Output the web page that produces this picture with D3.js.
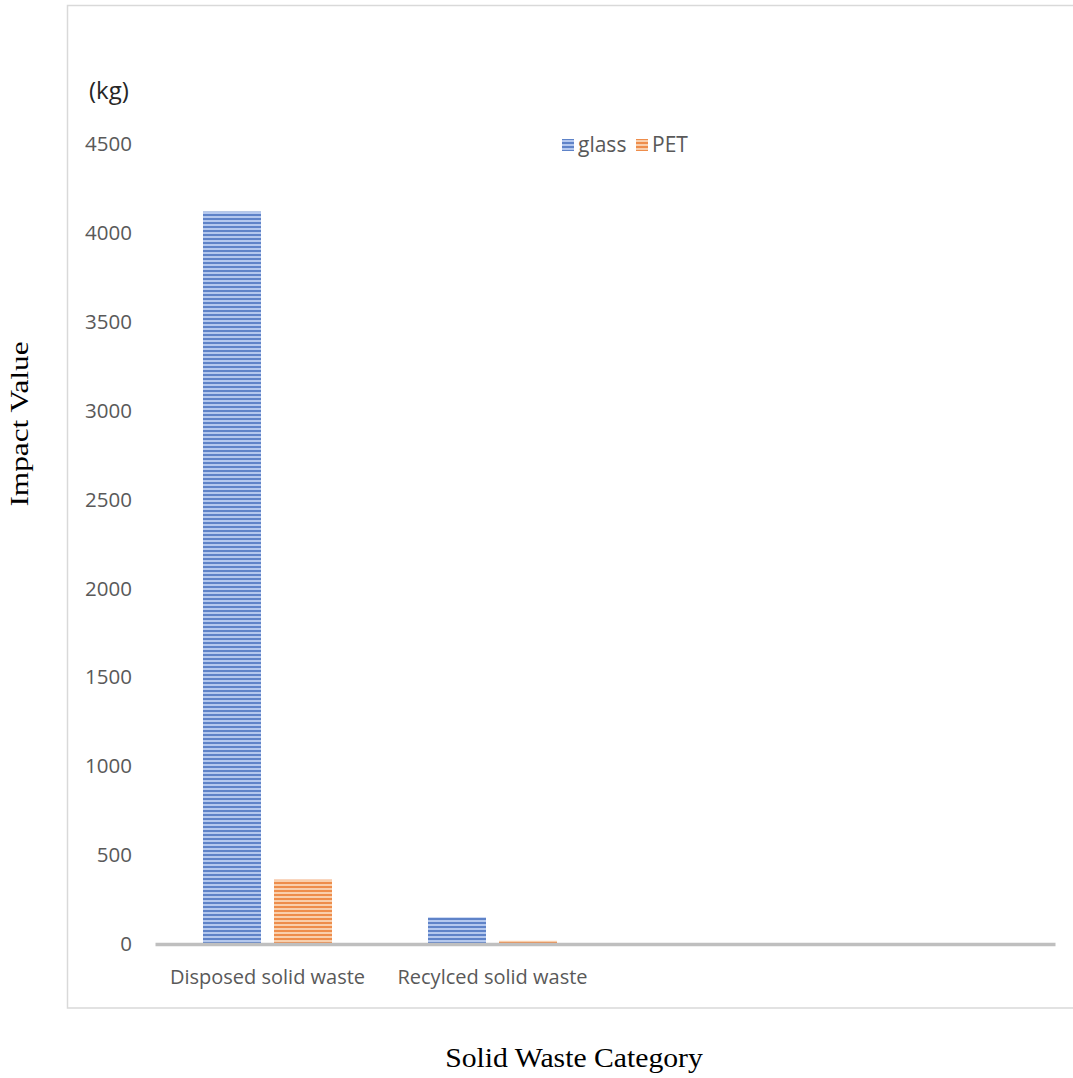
<!DOCTYPE html>
<html><head><meta charset="utf-8">
<script src="https://cdn.jsdelivr.net/npm/d3@7"></script>
<style>body{margin:0;background:#fff}</style>
</head><body>
<script>
const categories = ["Disposed solid waste", "Recylced solid waste", "", " "];
const seriesNames = ["glass", "PET"];
const glassValues = [4120, 150, null, null];
const petValues = [362, 18, null, null];
const yTicks = [0, 500, 1000, 1500, 2000, 2500, 3000, 3500, 4000, 4500];

const W = 1073, H = 1078;
const FONT = "'Open Sans', sans-serif";
const svg = d3.select("body").append("svg").attr("width", W).attr("height", H);

const defs = svg.append("defs");
function stripe(id, light, dark) {
  const p = defs.append("pattern").attr("id", id).attr("patternUnits", "userSpaceOnUse")
    .attr("width", 8).attr("height", 4);
  p.append("rect").attr("width", 8).attr("height", 4).attr("fill", light);
  p.append("rect").attr("y", 2.2).attr("width", 8).attr("height", 1.6).attr("fill", dark);
}
stripe("pg", "#b4c8ee", "#4a72bf");
stripe("pp", "#f9cfac", "#ec7d33");
const fills = ["url(#pg)", "url(#pp)"];

// outer border
svg.append("rect").attr("x", 67.5).attr("y", 5.5).attr("width", W + 10).attr("height", 1002.5)
  .attr("fill", "none").attr("stroke", "#d9d9d9").attr("stroke-width", 1.5);

const x0 = d3.scaleBand().domain(categories).range([155, 1055]);
const y = d3.scaleLinear().domain([0, 4500]).range([944, 144]);
const barW = 58, gap = 13;

// y axis labels
const yAxis = d3.axisLeft(y).tickValues(yTicks).tickFormat(d3.format("d")).tickSize(0).tickPadding(0);
const gy = svg.append("g").attr("transform", "translate(132,0)").call(yAxis);
gy.select(".domain").remove();
gy.selectAll("text").attr("font-family", FONT).attr("font-size", 20.5).attr("fill", "#595959");

// bars
const data = [glassValues, petValues];
data.forEach((vals, si) => {
  svg.append("g").selectAll("rect").data(categories.map((c, i) => ({c, v: vals[i]})).filter(d => d.v != null))
    .join("rect")
    .attr("x", d => x0(d.c) + x0.bandwidth() / 2 - (barW + gap / 2) + si * (barW + gap))
    .attr("y", d => y(d.v))
    .attr("width", barW)
    .attr("height", d => y(0) - y(d.v))
    .attr("fill", fills[si]);
});

// x axis
const xAxis = d3.axisBottom(x0).tickSize(0).tickPadding(26);
const gx = svg.append("g").attr("transform", "translate(0,944)").call(xAxis);
gx.select(".domain").attr("stroke", "#bfbfbf").attr("stroke-width", 3.5);
gx.selectAll("text").attr("font-family", FONT).attr("font-size", 20).attr("fill", "#595959");

// (kg)
svg.append("text").attr("x", 89).attr("y", 99).text("(kg)")
  .attr("font-family", FONT).attr("font-size", 24).attr("fill", "#262626");

// legend
const leg = svg.append("g");
const legItems = [{n: seriesNames[0], x: 562}, {n: seriesNames[1], x: 636}];
legItems.forEach((d, i) => {
  leg.append("rect").attr("x", d.x).attr("y", 139).attr("width", 12).attr("height", 12).attr("fill", fills[i]);
  leg.append("text").attr("x", d.x + 16).attr("y", 152).text(d.n)
    .attr("font-family", FONT).attr("font-size", 21).attr("fill", "#595959");
});

// axis titles
svg.append("text").attr("transform", "translate(28,424) rotate(-90) scale(1.25,1)").attr("text-anchor", "middle")
  .text("Impact Value").attr("font-family", "'Liberation Serif', 'Times New Roman', serif")
  .attr("font-size", 25).attr("fill", "#000");
svg.append("text").attr("transform", "translate(574,1067) scale(1.1,1)").attr("text-anchor", "middle")
  .text("Solid Waste Category").attr("font-family", "'Liberation Serif', 'Times New Roman', serif")
  .attr("font-size", 27).attr("fill", "#000");
</script>
</body></html>
